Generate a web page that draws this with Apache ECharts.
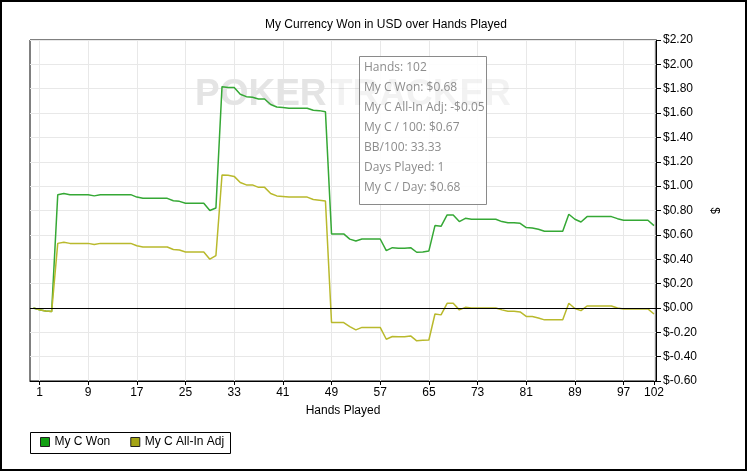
<!DOCTYPE html>
<html>
<head>
<meta charset="utf-8">
<script src="https://cdn.jsdelivr.net/npm/echarts@6/dist/echarts.min.js"></script>
<style>
html,body{margin:0;padding:0;background:#fff;}
#chart{width:749px;height:472px;}
</style>
</head>
<body>
<div id="chart"></div>
<script>
// Hands played (0 = start point)
const hands = [];
for (let i = 0; i <= 102; i++) hands.push(i);

// My C Won ($)
const myCWon = [
  0, -0.015, -0.025, -0.03, 0.93, 0.94, 0.93, 0.93, 0.93, 0.93,
  0.92, 0.93, 0.93, 0.93, 0.93, 0.93, 0.93, 0.91, 0.90, 0.90,
  0.90, 0.90, 0.90, 0.88, 0.875, 0.86, 0.86, 0.86, 0.86, 0.80,
  0.82, 1.817, 1.81, 1.81, 1.755, 1.735, 1.73, 1.715, 1.715, 1.67,
  1.65, 1.645, 1.64, 1.64, 1.64, 1.64, 1.623, 1.62, 1.61, 0.608,
  0.608, 0.608, 0.565, 0.55, 0.566, 0.566, 0.566, 0.566, 0.47, 0.495,
  0.49, 0.49, 0.495, 0.457, 0.46, 0.468, 0.676, 0.67, 0.764, 0.764,
  0.709, 0.736, 0.728, 0.728, 0.728, 0.728, 0.728, 0.709, 0.70, 0.70,
  0.695, 0.66, 0.657, 0.646, 0.63, 0.63, 0.63, 0.63, 0.769, 0.728,
  0.706, 0.75, 0.75, 0.75, 0.75, 0.75, 0.733, 0.72, 0.72, 0.72,
  0.72, 0.72, 0.676
];

// My C All-In Adj ($)
const myCAllInAdj = [
  0, -0.015, -0.025, -0.03, 0.53, 0.54, 0.53, 0.53, 0.53, 0.53,
  0.52, 0.53, 0.53, 0.53, 0.53, 0.53, 0.53, 0.51, 0.50, 0.50,
  0.50, 0.50, 0.50, 0.48, 0.475, 0.46, 0.46, 0.46, 0.46, 0.40,
  0.43, 1.092, 1.09, 1.08, 1.03, 1.01, 1.01, 0.99, 0.99, 0.94,
  0.92, 0.915, 0.91, 0.91, 0.91, 0.91, 0.89, 0.885, 0.878, -0.12,
  -0.12, -0.12, -0.153, -0.18, -0.16, -0.16, -0.16, -0.16, -0.257, -0.235,
  -0.237, -0.237, -0.23, -0.27, -0.265, -0.263, -0.05, -0.057, 0.038, 0.038,
  -0.016, 0.005, 0, 0, 0, 0, 0, -0.016, -0.027, -0.027,
  -0.033, -0.07, -0.07, -0.082, -0.098, -0.098, -0.098, -0.098, 0.038, -0.005,
  -0.022, 0.016, 0.016, 0.016, 0.016, 0.016, 0, -0.008, -0.008, -0.008,
  -0.008, -0.008, -0.05
];

const xTickLabels = [1, 9, 17, 25, 33, 41, 49, 57, 65, 73, 81, 89, 97, 102];

const tooltipLines = [
  'Hands: 102',
  'My C Won: $0.68',
  'My C All-In Adj: -$0.05',
  'My C / 100: $0.67',
  'BB/100: 33.33',
  'Days Played: 1',
  'My C / Day: $0.68'
];

const FONT = '"Liberation Sans", Arial, sans-serif';

const chart = echarts.init(document.getElementById('chart'), null, {renderer: 'canvas'});

const tipTexts = tooltipLines.map((t, i) => ({
  type: 'text', left: 364, top: 62 + i * 20, z: 120,
  style: {text: t, fill: '#8c8c8c', font: '12px "Open Sans", "Noto Sans", sans-serif'}
}));

chart.setOption({
  animation: false,
  backgroundColor: '#fff',
  title: {
    text: 'My Currency Won in USD over Hands Played',
    left: 260, top: 14,
    textStyle: {fontSize: 12, fontWeight: 'normal', color: '#000', fontFamily: FONT}
  },
  grid: {
    left: 30, top: 40, right: 93, bottom: 91,
    show: true, borderColor: '#000', borderWidth: 1, containLabel: false
  },
  legend: {
    left: 35, top: 431,
    icon: 'rect', itemWidth: 9, itemHeight: 9, itemGap: 20,
    textStyle: {fontSize: 12, color: '#000', fontFamily: FONT},
    data: [
      {name: 'My C Won', itemStyle: {color: '#12a012', borderColor: '#222', borderWidth: 1}},
      {name: 'My C All-In Adj', itemStyle: {color: '#a4a414', borderColor: '#222', borderWidth: 1}}
    ]
  },
  xAxis: {
    type: 'value', min: -0.56, max: 102.33,
    name: 'Hands Played', nameLocation: 'middle', nameGap: 24,
    nameTextStyle: {fontSize: 12, color: '#000', fontFamily: FONT},
    axisLine: {show: true, onZero: false, lineStyle: {color: '#000', width: 1}},
    axisTick: {show: true, length: 4, lineStyle: {color: '#000'}, customValues: xTickLabels},
    axisLabel: {fontSize: 12, color: '#000', fontFamily: FONT, margin: 6, customValues: xTickLabels},
    splitLine: {show: true, lineStyle: {color: '#e8e8e8', width: 1}}
  },
  yAxis: {
    type: 'value', position: 'right', min: -0.6, max: 2.2, interval: 0.2,
    name: '$', nameLocation: 'middle', nameGap: 51, nameRotate: -90,
    nameTextStyle: {fontSize: 12, color: '#000', fontFamily: FONT},
    axisLine: {show: true, onZero: false, lineStyle: {color: '#000', width: 1}},
    axisTick: {show: true, length: 5, lineStyle: {color: '#000'}},
    axisLabel: {
      fontSize: 12, color: '#000', fontFamily: FONT, margin: 7,
      formatter: v => '$' + (Math.abs(v) < 1e-9 ? 0 : v).toFixed(2)
    },
    splitLine: {show: true, lineStyle: {color: '#e8e8e8', width: 1}}
  },
  series: [
    {
      name: 'My C Won', type: 'line', showSymbol: false, z: 3,
      lineStyle: {color: '#35a835', width: 1.5},
      itemStyle: {color: '#12a012'},
      data: hands.map((h, i) => [h, myCWon[i]]),
      markLine: {
        silent: true, symbol: 'none', label: {show: false},
        lineStyle: {color: '#000', width: 1, type: 'solid'},
        data: [{yAxis: 0}]
      }
    },
    {
      name: 'My C All-In Adj', type: 'line', showSymbol: false, z: 3,
      lineStyle: {color: '#b9b92c', width: 1.5},
      itemStyle: {color: '#a4a414'},
      data: hands.map((h, i) => [h, myCAllInAdj[i]])
    }
  ],
  graphic: [
    {type: 'rect', shape: {x: 1, y: 1, width: 745, height: 469}, z: 100,
     style: {fill: 'none', stroke: '#000', lineWidth: 2}},
    {type: 'text', left: 195, top: 76, z: 1,
     style: {text: 'POKER', fill: '#e4e4e4', font: 'bold 37px "Liberation Sans", Arial, sans-serif'}},
    {type: 'rect', shape: {x: 359.5, y: 56.5, width: 127, height: 148}, z: 110,
     style: {fill: 'rgba(255,255,255,0.9)', stroke: '#8a8a8a', lineWidth: 1}},
    {type: 'text', left: 330, top: 76, z: 111,
     style: {text: 'TRACKER', fill: 'rgba(0,0,0,0.05)', font: 'bold 37px "Liberation Sans", Arial, sans-serif'}},
    ...tipTexts,
    {type: 'rect', shape: {x: 30.5, y: 432.5, width: 200, height: 21}, z: 100,
     style: {fill: 'none', stroke: '#000', lineWidth: 1}}
  ]
});
</script>
</body>
</html>
